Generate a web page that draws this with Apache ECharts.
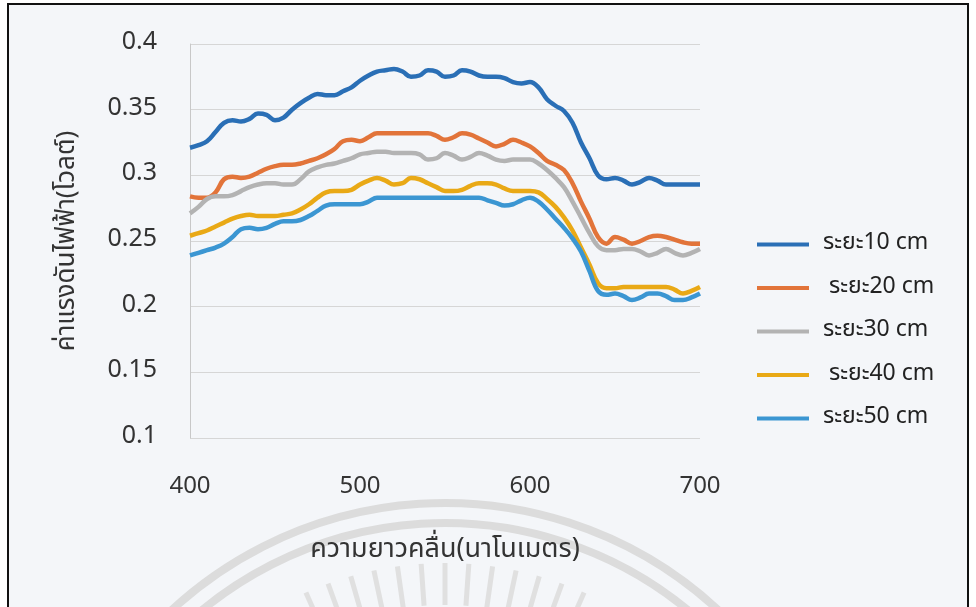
<!DOCTYPE html>
<html><head><meta charset="utf-8">
<script src="https://cdn.jsdelivr.net/npm/echarts@6/dist/echarts.min.js"></script>
<style>html,body{margin:0;padding:0;background:#fff}#c{width:976px;height:607px}</style>
</head><body><div id="c"></div>
<script>
const wavelengths = [400,405,410,415,420,425,430,435,440,445,450,455,460,465,470,475,480,485,490,495,500,505,510,515,520,525,530,535,540,545,550,555,560,565,570,575,580,585,590,595,600,605,610,615,620,625,630,635,640,645,650,655,660,665,670,675,680,685,690,695,700];
const seriesNames = ['ระยะ10 cm', ' ระยะ20 cm', 'ระยะ30 cm', ' ระยะ40 cm', 'ระยะ50 cm'];
const d10 = [0.321,0.323,0.326,0.333,0.340,0.342,0.341,0.343,0.347,0.346,0.342,0.344,0.350,0.355,0.359,0.362,0.361,0.361,0.364,0.367,0.372,0.376,0.379,0.380,0.381,0.379,0.375,0.376,0.380,0.379,0.375,0.376,0.380,0.379,0.376,0.375,0.375,0.374,0.371,0.370,0.371,0.367,0.358,0.353,0.349,0.340,0.325,0.313,0.300,0.297,0.298,0.296,0.293,0.295,0.298,0.296,0.293,0.293,0.293,0.293,0.293];
const d20 = [0.284,0.283,0.283,0.287,0.297,0.299,0.298,0.299,0.302,0.305,0.307,0.308,0.308,0.309,0.311,0.313,0.316,0.320,0.326,0.327,0.326,0.329,0.332,0.332,0.332,0.332,0.332,0.332,0.332,0.330,0.327,0.329,0.332,0.331,0.328,0.325,0.322,0.324,0.327,0.325,0.322,0.317,0.311,0.308,0.304,0.294,0.280,0.267,0.253,0.248,0.253,0.251,0.248,0.250,0.253,0.254,0.253,0.251,0.249,0.248,0.248];
const d30 = [0.271,0.276,0.282,0.284,0.284,0.285,0.288,0.291,0.293,0.294,0.294,0.293,0.293,0.297,0.303,0.306,0.308,0.309,0.311,0.313,0.316,0.317,0.318,0.318,0.317,0.317,0.317,0.316,0.312,0.313,0.317,0.315,0.312,0.314,0.317,0.315,0.312,0.311,0.312,0.312,0.312,0.309,0.304,0.298,0.291,0.280,0.268,0.256,0.246,0.243,0.243,0.244,0.244,0.242,0.239,0.241,0.244,0.241,0.239,0.241,0.244];
const d40 = [0.254,0.256,0.258,0.261,0.264,0.267,0.269,0.270,0.269,0.269,0.269,0.270,0.271,0.274,0.278,0.283,0.287,0.288,0.288,0.289,0.293,0.296,0.298,0.296,0.293,0.294,0.298,0.297,0.294,0.291,0.288,0.288,0.289,0.292,0.294,0.294,0.293,0.290,0.288,0.288,0.288,0.287,0.282,0.276,0.268,0.258,0.245,0.232,0.218,0.214,0.214,0.215,0.215,0.215,0.215,0.215,0.215,0.213,0.210,0.212,0.215];
const d50 = [0.239,0.241,0.243,0.245,0.248,0.253,0.259,0.260,0.259,0.260,0.263,0.265,0.265,0.266,0.269,0.273,0.277,0.278,0.278,0.278,0.278,0.280,0.283,0.283,0.283,0.283,0.283,0.283,0.283,0.283,0.283,0.283,0.283,0.283,0.283,0.281,0.279,0.277,0.278,0.281,0.283,0.280,0.274,0.267,0.260,0.252,0.242,0.227,0.212,0.209,0.210,0.208,0.205,0.207,0.210,0.210,0.208,0.205,0.205,0.207,0.210];
const yTicks = [0.1,0.15,0.2,0.25,0.3,0.35,0.4];
const xTicks = [400,500,600,700];
const colors = ['#2a6fb6','#e2743a','#b3b3b3','#e9a916','#3b96d2'];
const allData = [d10,d20,d30,d40,d50];

const FONT = '"Noto Sans Thai","Noto Sans","DejaVu Sans",sans-serif';
const cx = 445, cy = 905;
const rays = [];
for (const deg of [-24,-20,-16,-12,-8,-4,0,4,8,12,16,20,24]) {
  const a = (deg - 90) * Math.PI / 180;
  rays.push({type:'line',z:-5,shape:{x1:cx+300*Math.cos(a),y1:cy+300*Math.sin(a),x2:cx+342*Math.cos(a),y2:cy+342*Math.sin(a)},style:{stroke:'#e0e0e0',lineWidth:5}});
}
const chart = echarts.init(document.getElementById('c'));
chart.setOption({
  animation:false,
  backgroundColor:'#ffffff',
  textStyle:{fontFamily:FONT},
  graphic:[
    {type:'rect',z:-10,shape:{x:8,y:4,width:960,height:640},style:{fill:'#f4f6f9',stroke:'#111',lineWidth:2}},
    {type:'arc',z:-5,shape:{cx:cx,cy:cy,r:402,startAngle:Math.PI*1.1,endAngle:Math.PI*1.9},style:{fill:null,stroke:'#dcdcdc',lineWidth:8}},
    {type:'arc',z:-5,shape:{cx:cx,cy:cy,r:382,startAngle:Math.PI*1.1,endAngle:Math.PI*1.9},style:{fill:null,stroke:'#dcdcdc',lineWidth:8}}
  ].concat(rays),
  grid:{left:190,right:276,top:44,bottom:169},
  legend:{
    orient:'vertical',left:757,top:233,itemGap:20.5,itemWidth:52,itemHeight:4,padding:0,
    icon:'rect',
    textStyle:{fontSize:23,color:'#222',fontFamily:FONT,padding:[0,0,0,9]},
    data:seriesNames
  },
  xAxis:{
    type:'value',min:xTicks[0],max:xTicks[xTicks.length-1],interval:100,
    name:'ความยาวคลื่น(นาโนเมตร)',nameLocation:'middle',nameGap:100,nameMoveOverlap:false,
    nameTextStyle:{fontSize:27,color:'#333',fontFamily:FONT},
    axisLine:{show:false},axisTick:{show:false},splitLine:{show:false},
    axisLabel:{fontSize:24,color:'#333',margin:38,fontFamily:FONT}
  },
  yAxis:{
    type:'value',min:yTicks[0],max:yTicks[yTicks.length-1],interval:0.05,
    name:'ค่าแรงดันไฟฟ้า(โวลต์)',nameLocation:'middle',nameGap:108,nameMoveOverlap:false,
    nameTextStyle:{fontSize:26,color:'#333',fontFamily:FONT},
    axisLine:{show:true,lineStyle:{color:'#c8c8c8',width:1}},axisTick:{show:false},
    splitLine:{show:true,lineStyle:{color:'#d6d6d6',width:1}},
    axisLabel:{fontSize:25,color:'#333',margin:33,fontFamily:FONT,formatter:v=>String(+v.toFixed(2))}
  },
  series: seriesNames.map((n,i)=>({
    name:n,type:'line',smooth:0.4,showSymbol:false,symbol:'none',
    data:wavelengths.map((w,j)=>[w,allData[i][j]]),
    lineStyle:{color:colors[i],width:4.5},itemStyle:{color:colors[i]}
  }))
});
</script></body></html>
